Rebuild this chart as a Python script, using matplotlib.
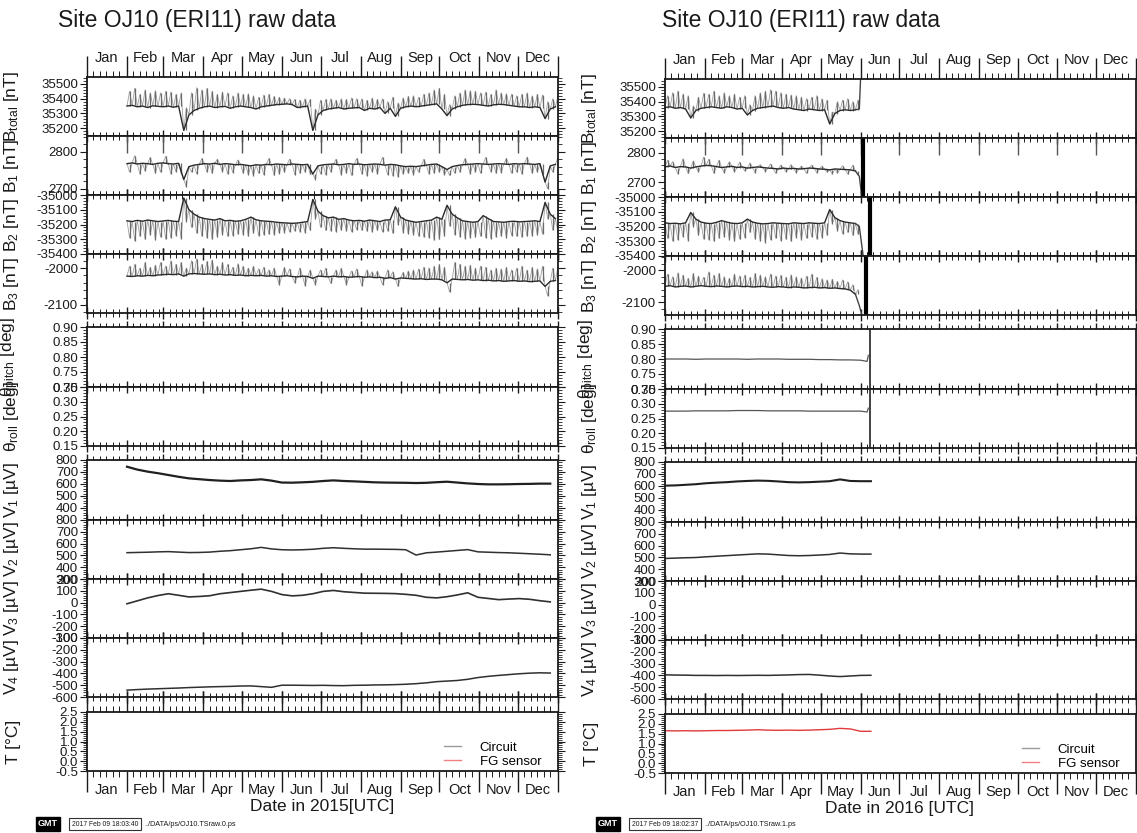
import numpy as np
import pandas as pd
import matplotlib
matplotlib.use("Agg")
import matplotlib.pyplot as plt
import matplotlib.dates as mdates
import matplotlib.transforms as mtransforms
from matplotlib.lines import Line2D
from matplotlib.ticker import FixedLocator, AutoMinorLocator, FormatStrFormatter

plt.rcParams['font.family'] = ['Liberation Sans', 'DejaVu Sans']
plt.rcParams['mathtext.default'] = 'regular'

months = ["Jan", "Feb", "Mar", "Apr", "May", "Jun", "Jul", "Aug", "Sep", "Oct", "Nov", "Dec"]

# ---- magnetometer: quiet level every 4 days, excursion 2 days later ----
t_b15 = pd.date_range("2015-02-01", periods=84, freq="4D")
t_p15 = pd.date_range("2015-02-03", periods=84, freq="4D")
t_b16 = pd.date_range("2016-01-01", periods=38, freq="4D")
t_p16 = pd.date_range("2016-01-03", periods=38, freq="4D")

btot15_base = [35350, 35355, 35345, 35350, 35340, 35352, 35348, 35345, 35350, 35342, 35350, 35185,
               35290, 35320, 35335, 35345, 35350, 35340, 35345, 35348, 35335, 35345, 35350, 35345,
               35340, 35330, 35345, 35350, 35355, 35360, 35362, 35365, 35360, 35340, 35345, 35350,
               35185, 35290, 35320, 35330, 35335, 35340, 35330, 35335, 35338, 35340, 35320, 35335,
               35330, 35340, 35300, 35335, 35280, 35335, 35345, 35350, 35345, 35350, 35355, 35360,
               35365, 35330, 35285, 35330, 35345, 35355, 35360, 35362, 35360, 35355, 35350, 35358,
               35362, 35360, 35355, 35350, 35345, 35345, 35340, 35345, 35340, 35265, 35330, 35345]
btot15_peak = [35450, 35470, 35430, 35460, 35440, 35455, 35440, 35450, 35445, 35430, 35440, 35340,
               35440, 35475, 35460, 35470, 35450, 35430, 35445, 35440, 35420, 35440, 35430, 35435,
               35420, 35410, 35425, 35430, 35415, 35410, 35405, 35400, 35395, 35390, 35400, 35395,
               35330, 35390, 35395, 35400, 35390, 35400, 35395, 35405, 35400, 35400, 35390, 35405,
               35395, 35400, 35380, 35410, 35370, 35405, 35415, 35420, 35410, 35430, 35440, 35460,
               35470, 35430, 35360, 35420, 35440, 35460, 35455, 35450, 35440, 35445, 35430, 35460,
               35440, 35435, 35430, 35420, 35430, 35440, 35420, 35430, 35425, 35380, 35400, 35420]

b1_15_base = [2768, 2770, 2767, 2769, 2768, 2766, 2769, 2770, 2768, 2767, 2769, 2725,
              2760, 2764, 2766, 2768, 2767, 2769, 2766, 2768, 2767, 2765, 2766, 2764,
              2762, 2765, 2764, 2766, 2765, 2767, 2766, 2765, 2767, 2766, 2765, 2766,
              2740, 2762, 2765, 2766, 2767, 2765, 2766, 2768, 2766, 2767, 2765, 2766,
              2767, 2766, 2764, 2766, 2765, 2762, 2760, 2761, 2760, 2762, 2764, 2766,
              2767, 2760, 2752, 2760, 2763, 2765, 2766, 2767, 2768, 2767, 2766, 2767,
              2768, 2767, 2766, 2768, 2767, 2768, 2767, 2766, 2768, 2718, 2762, 2766]
b1_15_peak = [2745, 2790, 2740, 2748, 2785, 2742, 2745, 2788, 2740, 2746, 2742, 2705,
              2745, 2740, 2782, 2745, 2742, 2780, 2746, 2740, 2744, 2778, 2742, 2738,
              2735, 2742, 2738, 2782, 2736, 2740, 2745, 2780, 2738, 2742, 2745, 2740,
              2725, 2740, 2738, 2745, 2780, 2738, 2742, 2736, 2782, 2740, 2735, 2745,
              2740, 2785, 2738, 2735, 2732, 2740, 2742, 2738, 2745, 2780, 2740, 2742,
              2745, 2738, 2736, 2742, 2745, 2782, 2740, 2745, 2742, 2785, 2746, 2742,
              2744, 2782, 2742, 2745, 2740, 2786, 2742, 2745, 2740, 2700, 2745, 2785]

b2_15_base = [-35175, -35180, -35172, -35178, -35170, -35175, -35180, -35176, -35172, -35178, -35180, -35020,
              -35100, -35130, -35150, -35160, -35165, -35170, -35160, -35175, -35172, -35178, -35175, -35165,
              -35150, -35168, -35175, -35178, -35180, -35185, -35188, -35190, -35192, -35190, -35185, -35180,
              -35030, -35110, -35140, -35155, -35150, -35165, -35160, -35170, -35175, -35172, -35178, -35170,
              -35175, -35180, -35170, -35168, -35080, -35150, -35170, -35178, -35185, -35180, -35175, -35170,
              -35150, -35165, -35070, -35130, -35155, -35175, -35180, -35185, -35180, -35140, -35160, -35180,
              -35182, -35185, -35180, -35178, -35182, -35180, -35178, -35175, -35180, -35050, -35130, -35160]
b2_15_peak = [-35290, -35310, -35280, -35300, -35270, -35305, -35285, -35300, -35290, -35275, -35295, -35180,
              -35220, -35260, -35280, -35290, -35300, -35285, -35270, -35280, -35275, -35265, -35270, -35280,
              -35260, -35275, -35270, -35265, -35270, -35260, -35255, -35250, -35245, -35250, -35255, -35240,
              -35160, -35220, -35240, -35245, -35250, -35240, -35245, -35250, -35235, -35240, -35245, -35250,
              -35240, -35250, -35245, -35260, -35200, -35255, -35265, -35270, -35280, -35285, -35290, -35305,
              -35300, -35280, -35210, -35270, -35285, -35295, -35290, -35285, -35280, -35290, -35295, -35285,
              -35280, -35290, -35275, -35280, -35285, -35280, -35275, -35270, -35265, -35160, -35240, -35255]

b3_15_base = [-2022, -2023, -2021, -2022, -2020, -2021, -2019, -2018, -2017, -2018, -2016, -2022,
              -2016, -2015, -2016, -2017, -2016, -2018, -2017, -2019, -2018, -2020, -2019, -2021,
              -2020, -2021, -2020, -2022, -2021, -2023, -2022, -2021, -2023, -2024, -2022, -2023,
              -2028, -2022, -2023, -2024, -2022, -2024, -2023, -2025, -2024, -2023, -2025, -2024,
              -2026, -2025, -2028, -2026, -2030, -2027, -2028, -2029, -2030, -2029, -2031, -2030,
              -2030, -2032, -2040, -2030, -2031, -2032, -2031, -2033, -2032, -2034, -2033, -2035,
              -2034, -2036, -2035, -2034, -2036, -2035, -2037, -2036, -2035, -2050, -2036, -2034]
b3_15_peak = [-1995, -1990, -2000, -1985, -1998, -1992, -1985, -1995, -1980, -1990, -1985, -2000,
              -1980, -1975, -1990, -1982, -1978, -1995, -1985, -1990, -1998, -1988, -1995, -2000,
              -1995, -2002, -1998, -2005, -2000, -2045, -1998, -2002, -2040, -2000, -2048, -2005,
              -2045, -2005, -2000, -2042, -2005, -2000, -2045, -2008, -2002, -2048, -2005, -2010,
              -2008, -2045, -2005, -2010, -2050, -2012, -2008, -2005, -2002, -1998, -2000, -1995,
              -1990, -1998, -2065, -1985, -1990, -1995, -1992, -2000, -1995, -1998, -2005, -2000,
              -2002, -1998, -2005, -2000, -1995, -2005, -1998, -2002, -1995, -2075, -2000, -1995]

btot16_base = [35360, 35365, 35355, 35360, 35350, 35290, 35340, 35355, 35360, 35365, 35360, 35355, 35365,
               35360, 35350, 35355, 35310, 35340, 35355, 35360, 35365, 35370, 35360, 35355, 35360, 35350,
               35345, 35340, 35350, 35345, 35340, 35345, 35250, 35320, 35340, 35345, 35340, 35345]
btot16_peak = [35440, 35460, 35470, 35450, 35440, 35370, 35430, 35455, 35450, 35470, 35440, 35460, 35440,
               35450, 35430, 35440, 35380, 35440, 35460, 35470, 35480, 35470, 35460, 35450, 35445, 35440,
               35430, 35420, 35430, 35440, 35420, 35410, 35330, 35400, 35410, 35420, 35400, 35410]
b1_16_base = [2752, 2755, 2750, 2753, 2752, 2748, 2752, 2755, 2757, 2756, 2753, 2750, 2752,
              2754, 2750, 2752, 2748, 2750, 2752, 2750, 2748, 2747, 2745, 2748, 2746, 2747,
              2745, 2746, 2748, 2747, 2745, 2744, 2742, 2745, 2744, 2743, 2742, 2738]
b1_16_peak = [2775, 2770, 2728, 2780, 2730, 2772, 2735, 2785, 2778, 2730, 2775, 2732, 2770,
              2735, 2768, 2738, 2765, 2732, 2760, 2736, 2762, 2730, 2758, 2735, 2760, 2732,
              2755, 2730, 2758, 2732, 2755, 2735, 2728, 2732, 2756, 2728, 2758, 2725]
b2_16_base = [-35175, -35180, -35178, -35182, -35175, -35105, -35150, -35170, -35178, -35180, -35172, -35160, -35170,
              -35178, -35180, -35175, -35150, -35170, -35178, -35182, -35180, -35175, -35178, -35180, -35182, -35175,
              -35178, -35180, -35175, -35178, -35180, -35175, -35085, -35140, -35160, -35170, -35175, -35180]
b2_16_peak = [-35280, -35300, -35290, -35270, -35295, -35200, -35260, -35285, -35290, -35300, -35280, -35270, -35290,
              -35300, -35285, -35275, -35240, -35285, -35300, -35310, -35290, -35280, -35295, -35285, -35300, -35275,
              -35290, -35280, -35270, -35285, -35275, -35260, -35180, -35230, -35250, -35240, -35260, -35250]
b3_16_base = [-2050, -2048, -2052, -2050, -2049, -2052, -2050, -2048, -2050, -2051, -2049, -2050, -2052,
              -2050, -2049, -2051, -2050, -2052, -2051, -2050, -2052, -2053, -2051, -2052, -2054, -2052,
              -2053, -2055, -2054, -2053, -2055, -2054, -2056, -2055, -2057, -2058, -2062, -2075]
b3_16_peak = [-2012, -2020, -2008, -2015, -2025, -2010, -2018, -2022, -2005, -2015, -2010, -2020, -2025,
              -2012, -2018, -2015, -2022, -2010, -2014, -2020, -2012, -2018, -2016, -2022, -2014, -2020,
              -2024, -2018, -2012, -2022, -2026, -2030, -2028, -2035, -2030, -2036, -2045, -2060]

# end of the 2016 record: last readings and the saturated jumps
btot16_end_t = ["2016-05-31", "2016-06-01"]
btot16_end = [35350, 35560]
b1_16_end_t = ["2016-05-31", "2016-06-02"]
b1_16_end = [2720, 2650]
b2_16_end_t = ["2016-05-31", "2016-06-03"]
b2_16_end = [-35200, -35400]
b3_16_end_t = ["2016-05-31", "2016-06-02"]
b3_16_end = [-2110, -2140]
b1_16_jump = "2016-06-03"
b2_16_jump = "2016-06-08"
b3_16_jump = "2016-06-05"
tilt16_jump = "2016-06-08"

# ---- tilt 2016 ----
t_tilt16 = pd.date_range("2016-01-01", periods=20, freq="8D")
pitch16 = [0.800, 0.800, 0.800, 0.799, 0.800, 0.800, 0.800, 0.800, 0.799, 0.800,
           0.800, 0.800, 0.799, 0.799, 0.799, 0.798, 0.798, 0.797, 0.797, 0.796]
roll16 = [0.275, 0.275, 0.275, 0.276, 0.276, 0.276, 0.276, 0.277, 0.277, 0.277,
          0.276, 0.276, 0.276, 0.276, 0.275, 0.275, 0.275, 0.275, 0.275, 0.275]
tilt16_end_t = ["2016-06-06", "2016-06-07"]
pitch16_end = [0.792, 0.812]
roll16_end = [0.272, 0.285]

# ---- electrodes, 8-day samples ----
t_v15 = pd.date_range("2015-02-01", periods=42, freq="8D")
t_v16 = pd.date_range("2016-01-01", periods=21, freq="8D")

v1_15 = [744, 720, 703, 690, 675, 660, 647, 640, 633, 628, 625, 630, 633, 639, 628, 612, 611, 614, 618, 625, 630,
         625, 622, 618, 614, 612, 611, 610, 608, 610, 615, 619, 612, 605, 600, 597, 597, 598, 600, 601, 603, 603]
v2_15 = [523, 525, 527, 530, 532, 528, 524, 525, 528, 535, 540, 548, 556, 568, 555, 548, 546, 548, 552, 560, 565,
         560, 556, 553, 553, 552, 551, 548, 503, 522, 528, 535, 542, 549, 530, 527, 524, 522, 518, 514, 510, 505]
v3_15 = [-10, 15, 40, 60, 75, 62, 48, 52, 58, 75, 85, 95, 105, 114, 95, 68, 57, 62, 75, 95, 103,
         92, 86, 80, 79, 78, 76, 70, 62, 45, 40, 50, 65, 83, 45, 35, 25, 30, 34, 28, 16, 6]
v4_15 = [-542, -537, -533, -530, -527, -524, -520, -517, -514, -512, -510, -507, -506, -512, -518, -500, -500, -501,
         -502, -501, -503, -504, -501, -500, -498, -497, -495, -492, -487, -480, -470, -465, -460, -450, -435, -425,
         -417, -410, -403, -398, -395, -397]

v1_16 = [603, 605, 610, 615, 623, 628, 632, 638, 642, 645, 643, 638, 632, 630, 632, 636, 640, 655, 642, 640, 640]
v2_16 = [491, 494, 497, 499, 505, 510, 515, 520, 525, 530, 528, 522, 516, 514, 516, 520, 525, 537, 530, 528, 528]
v4_16 = [-395, -397, -398, -400, -400, -401, -400, -401, -400, -399, -400, -398, -396, -393, -392, -398, -405,
         -410, -405, -400, -399]
fg16 = [1.65, 1.64, 1.65, 1.64, 1.65, 1.66, 1.66, 1.67, 1.68, 1.70, 1.68, 1.67, 1.68, 1.67, 1.68, 1.70, 1.72,
        1.77, 1.74, 1.62, 1.62]

W, H = 1137, 833
fig = plt.figure(figsize=(W / 100, H / 100), dpi=100)
fig.patch.set_facecolor("white")

# pixel rows of the panels (top, bottom)
rows = {"btot": (77, 136), "b1": (136, 195), "b2": (195, 254), "b3": (254, 313),
        "pitch": (327, 387), "roll": (387, 446),
        "v1": (460, 520), "v2": (520, 579), "v3": (579, 638), "v4": (638, 697),
        "temp": (712, 771)}

FG = "#1a1a1a"


def add_panel(x0, dy, key, year, ylim, yticks, fmt, ylabel, kind="mid"):
    top, bot = rows[key]
    top += dy
    bot += dy
    ax = fig.add_axes([x0 / W, 1 - bot / H, 471 / W, (bot - top) / H])
    ax.set_xlim(pd.Timestamp(f"{year}-01-01"), pd.Timestamp(f"{year + 1}-01-01"))
    ax.set_ylim(*ylim)
    for s in ax.spines.values():
        s.set_linewidth(1.3)
        s.set_color(FG)
    ax.yaxis.set_major_locator(FixedLocator(yticks))
    ax.yaxis.set_major_formatter(FormatStrFormatter(fmt))
    ax.yaxis.set_minor_locator(AutoMinorLocator(5))
    ax.tick_params(axis="y", which="both", direction="out", left=True, right=True,
                   labelsize=9.5, pad=1.5, colors=FG)
    ax.tick_params(axis="y", which="major", length=5, width=0.8)
    ax.tick_params(axis="y", which="minor", length=3, width=0.6)
    ax.xaxis.set_major_locator(mdates.MonthLocator())
    ax.xaxis.set_minor_locator(mdates.DayLocator(bymonthday=[6, 11, 16, 21, 26]))
    ax.tick_params(axis="x", which="both", labelbottom=False, labeltop=False, top=True, colors=FG)
    if kind == "first":
        ax.tick_params(axis="x", which="both", direction="out", bottom=False)
        ax.tick_params(axis="x", which="major", length=4, width=1.0)
        ax.tick_params(axis="x", which="minor", length=3, width=0.7)
    elif kind == "long":
        ax.tick_params(axis="x", which="both", direction="out", bottom=(key == "temp"))
        ax.tick_params(axis="x", which="major", length=15, width=1.0)
        ax.tick_params(axis="x", which="minor", length=4, width=0.7)
    else:
        ax.tick_params(axis="x", which="both", direction="inout", bottom=True)
        ax.tick_params(axis="x", which="major", length=8, width=1.0)
        ax.tick_params(axis="x", which="minor", length=6, width=0.7)
    ax.set_ylabel(ylabel, fontsize=12.5, color=FG)
    ax.yaxis.set_label_coords(-0.14, 0.5)
    return ax


def month_labels(ax, year, yfrac):
    trans = mtransforms.blended_transform_factory(ax.transData, ax.transAxes)
    starts = pd.date_range(f"{year}-01-01", periods=13, freq="MS")
    for i, name in enumerate(months):
        mid = starts[i] + (starts[i + 1] - starts[i]) / 2
        ax.text(mid, yfrac, name, transform=trans, ha="center", va="center",
                fontsize=10.5, color=FG)


def spiky(ax, tb, tp, base, peak):
    # trace swings between the quiet level and each excursion
    t = [d for pair in zip(tb, tp) for d in pair]
    v = [x for pair in zip(base, peak) for x in pair]
    ax.plot(t, v, color="#a0a0a0", lw=0.6)
    ax.vlines(tp, base, peak, color="#6a6a6a", lw=0.9)
    ax.plot(tb, base, color="#2a2a2a", lw=1.0)


def build_page(x0, dy, year, b1_lim, b3_lim, btot_lim):
    axs = {}
    axs["btot"] = add_panel(x0, dy, "btot", year, btot_lim, [35200, 35300, 35400, 35500], "%d",
                            "B$_{total}$ [nT]", kind="long")
    axs["b1"] = add_panel(x0, dy, "b1", year, b1_lim, [2700, 2800], "%d", "B$_1$ [nT]")
    axs["b2"] = add_panel(x0, dy, "b2", year, (-35400, -35000),
                          [-35400, -35300, -35200, -35100, -35000], "%d", "B$_2$ [nT]")
    axs["b3"] = add_panel(x0, dy, "b3", year, b3_lim, [-2100, -2000], "%d", "B$_3$ [nT]")
    axs["pitch"] = add_panel(x0, dy, "pitch", year, (0.70, 0.90), [0.70, 0.75, 0.80, 0.85, 0.90],
                             "%.2f", "θ$_{pitch}$ [deg]", kind="first")
    axs["roll"] = add_panel(x0, dy, "roll", year, (0.15, 0.35), [0.15, 0.20, 0.25, 0.30, 0.35],
                            "%.2f", "θ$_{roll}$ [deg]")
    axs["v1"] = add_panel(x0, dy, "v1", year, (300, 800), [400, 500, 600, 700, 800], "%d",
                          "V$_1$ [µV]", kind="first")
    axs["v2"] = add_panel(x0, dy, "v2", year, (300, 800), [300, 400, 500, 600, 700, 800], "%d",
                          "V$_2$ [µV]")
    axs["v3"] = add_panel(x0, dy, "v3", year, (-300, 200), [-300, -200, -100, 0, 100, 200], "%d",
                          "V$_3$ [µV]")
    axs["v4"] = add_panel(x0, dy, "v4", year, (-600, -100), [-600, -500, -400, -300, -200, -100], "%d",
                          "V$_4$ [µV]")
    axs["temp"] = add_panel(x0, dy, "temp", year, (-0.5, 2.5), [-0.5, 0, 0.5, 1.0, 1.5, 2.0, 2.5], "%.1f",
                            "T [°C]", kind="long")
    # long month marks hanging into the B1 frame
    trans = mtransforms.blended_transform_factory(axs["b1"].transData, axs["b1"].transAxes)
    axs["b1"].vlines(pd.date_range(f"{year}-02-01", periods=11, freq="MS"), 0.71, 1.0,
                     transform=trans, color="#555555", lw=1.0)
    month_labels(axs["btot"], year, 1 + 19 / 59)
    month_labels(axs["temp"], year, -19 / 59)
    axs["temp"].legend(handles=[Line2D([], [], color="#9a9a9a", lw=1.0),
                                Line2D([], [], color="#f08080", lw=1.0)],
                       labels=["Circuit", "FG sensor"], loc="lower right",
                       bbox_to_anchor=(0.99, -0.15), frameon=False, fontsize=9.5,
                       handlelength=1.3, handletextpad=1.4, labelspacing=0.15)
    return axs


def footer(x, stamp, path):
    y = 1 - 824 / H
    fig.text(x / W, y, "GMT", fontsize=6.5, fontweight="bold", color="white", va="center",
             bbox=dict(boxstyle="square,pad=0.25", facecolor="black", edgecolor="black"))
    fig.text((x + 34) / W, y, stamp, fontsize=4.9, color=FG, va="center",
             bbox=dict(boxstyle="square,pad=0.4", facecolor="white", edgecolor="#333333", lw=0.8))
    fig.text((x + 106) / W, y, path, fontsize=5.2, color=FG, va="center")


# ---------------- 2015 ----------------
L = build_page(87, 0, 2015, (2683, 2843), (-2122, -1962), (35147, 35547))
spiky(L["btot"], t_b15, t_p15, btot15_base, btot15_peak)
spiky(L["b1"], t_b15, t_p15, b1_15_base, b1_15_peak)
spiky(L["b2"], t_b15, t_p15, b2_15_base, b2_15_peak)
spiky(L["b3"], t_b15, t_p15, b3_15_base, b3_15_peak)
L["v1"].plot(t_v15, v1_15, color="#202020", lw=1.6)
L["v2"].plot(t_v15, v2_15, color="#303030", lw=1.1)
L["v3"].plot(t_v15, v3_15, color="#303030", lw=1.2)
L["v4"].plot(t_v15, v4_15, color="#303030", lw=1.1)

# ---------------- 2016 ----------------
R = build_page(665, 2, 2016, (2650, 2850), (-2139, -1956), (35156, 35551))
spiky(R["btot"], t_b16, t_p16, btot16_base, btot16_peak)
spiky(R["b1"], t_b16, t_p16, b1_16_base, b1_16_peak)
spiky(R["b2"], t_b16, t_p16, b2_16_base, b2_16_peak)
spiky(R["b3"], t_b16, t_p16, b3_16_base, b3_16_peak)
for key, base, end_t, end in [("btot", btot16_base, btot16_end_t, btot16_end),
                              ("b1", b1_16_base, b1_16_end_t, b1_16_end),
                              ("b2", b2_16_base, b2_16_end_t, b2_16_end),
                              ("b3", b3_16_base, b3_16_end_t, b3_16_end)]:
    R[key].plot([t_b16[-1]] + list(pd.to_datetime(end_t)), [base[-1]] + end,
                color="#444444", lw=1.0)
R["b1"].axvline(pd.Timestamp(b1_16_jump), color="black", lw=3.0)
R["b2"].axvline(pd.Timestamp(b2_16_jump), color="black", lw=3.0)
R["b3"].axvline(pd.Timestamp(b3_16_jump), color="black", lw=3.0)

R["pitch"].plot(list(t_tilt16) + list(pd.to_datetime(tilt16_end_t)), pitch16 + pitch16_end,
                color="#555555", lw=0.9)
R["roll"].plot(list(t_tilt16) + list(pd.to_datetime(tilt16_end_t)), roll16 + roll16_end,
               color="#555555", lw=0.9)
R["pitch"].axvline(pd.Timestamp(tilt16_jump), color="#222222", lw=1.2)
R["roll"].axvline(pd.Timestamp(tilt16_jump), color="#222222", lw=1.2)

R["v1"].plot(t_v16, v1_16, color="#202020", lw=1.5)
R["v2"].plot(t_v16, v2_16, color="#303030", lw=1.1)
R["v4"].plot(t_v16, v4_16, color="#303030", lw=1.1)
R["temp"].plot(t_v16, fg16, color="#e03a3a", lw=1.0)

# titles, axis captions, footers
fig.text(197 / W, 1 - 20 / H, "Site OJ10 (ERI11) raw data", fontsize=16.5, ha="center", va="center", color=FG)
fig.text(801 / W, 1 - 20 / H, "Site OJ10 (ERI11) raw data", fontsize=16.5, ha="center", va="center", color=FG)
fig.text(322 / W, 1 - 806 / H, "Date in 2015[UTC]", fontsize=12.5, ha="center", va="center", color=FG)
fig.text(900 / W, 1 - 808 / H, "Date in 2016 [UTC]", fontsize=12.5, ha="center", va="center", color=FG)
footer(38, "2017 Feb 09 18:03:40", "../DATA/ps/OJ10.TSraw.0.ps")
footer(598, "2017 Feb 09 18:02:37", "../DATA/ps/OJ10.TSraw.1.ps")

fig.savefig("out.png", dpi=100, facecolor="white")
